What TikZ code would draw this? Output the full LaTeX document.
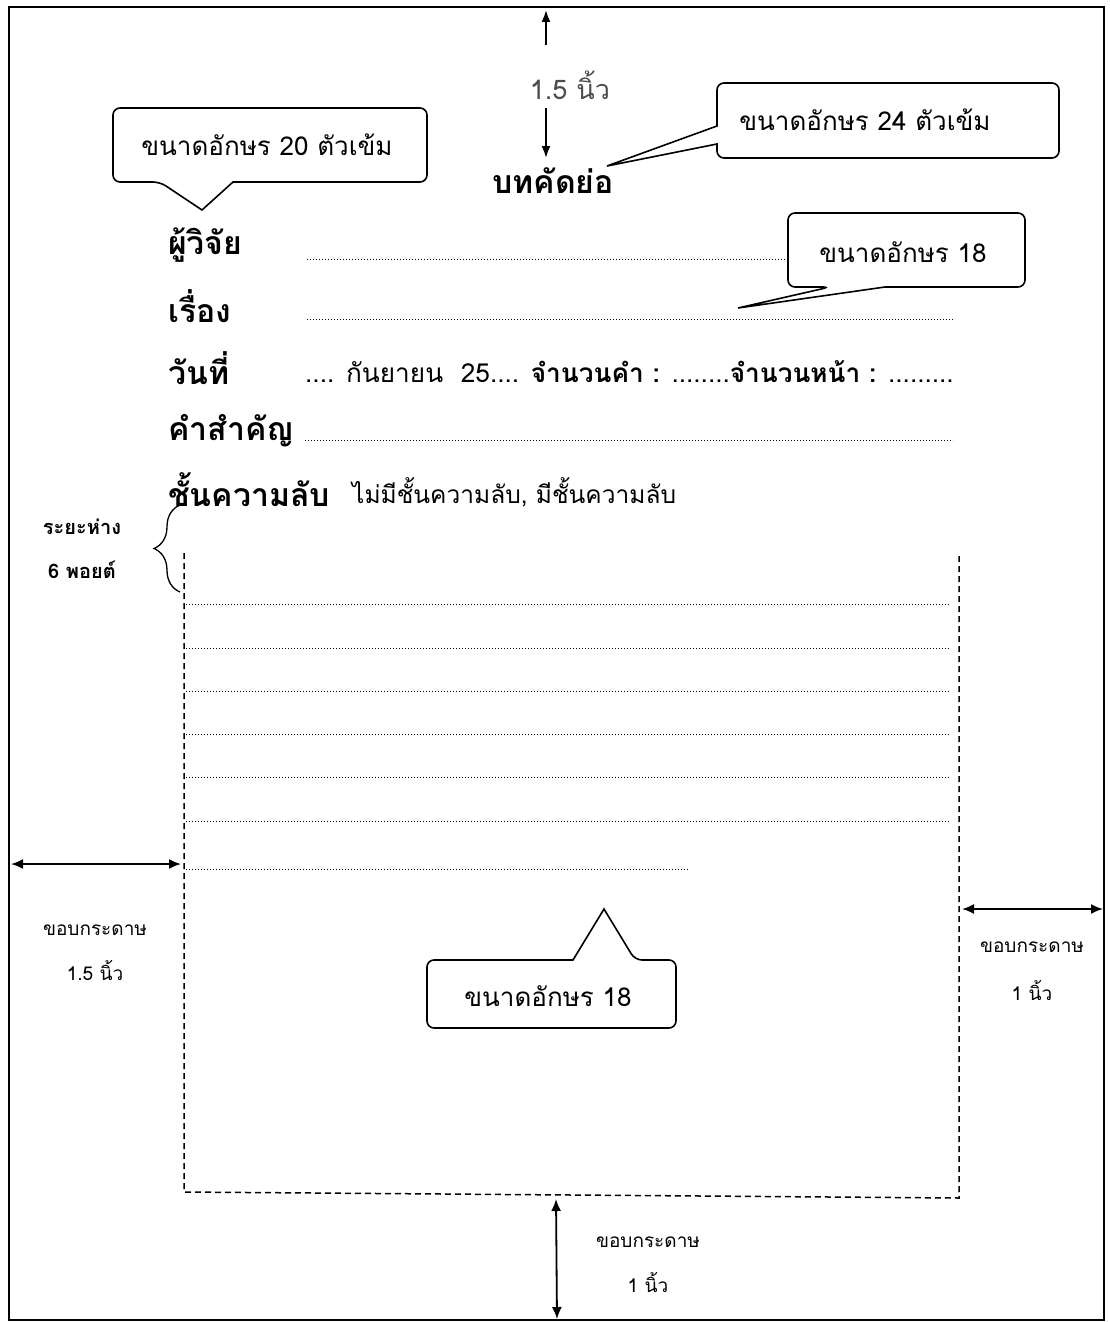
\documentclass[tikz,border=0pt]{standalone}
\usepackage{fontspec}
\setmainfont[Script=Thai]{Loma}
\usetikzlibrary{arrows.meta,decorations.pathreplacing}
\begin{document}
\begin{tikzpicture}[x=1pt,y=-1pt,
  frame/.style={line width=2.2pt},
  arr/.style={line width=1.8pt,-{Latex[length=12pt,width=9pt]}},
  darr/.style={line width=1.8pt,{Latex[length=12pt,width=10pt]}-{Latex[length=12pt,width=10pt]}},
  callout/.style={line width=1.6pt, rounded corners=7pt, fill=white},
  dots/.style={line width=1pt, dash pattern=on 1pt off 2pt},
  dashbox/.style={line width=1.5pt, dash pattern=on 6pt off 4pt},
  ctext/.style={font=\fontsize{26}{30}\selectfont, inner sep=0pt},
  lbl/.style={font=\bfseries\fontsize{32}{36}\selectfont, anchor=west, inner sep=0pt},
  reg/.style={font=\fontsize{26.2}{30}\selectfont, anchor=west, inner sep=0pt},
  small/.style={font=\fontsize{19}{22}\selectfont, inner sep=0pt},
  note/.style={font=\bfseries\fontsize{20}{24}\selectfont, inner sep=0pt},
]
\useasboundingbox (0,0) rectangle (1109,1322);
\draw[frame] (9,7) rectangle (1104,1320);

% top margin arrows
\coordinate (ttop) at (546,10);
\coordinate (tlow) at (546,45);
\coordinate (ttwo) at (546,108);
\coordinate (tbot) at (546,158);
\draw[arr] (tlow) -- (ttop);
\draw[arr] (ttwo) -- (tbot);
\node[font=\fontsize{27}{30}\selectfont, text=black!70] (n15) at (570,85) {1.5 นิ้ว};
\node[font=\bfseries\fontsize{32}{36}\selectfont] (title) at (553,181) {บทคัดย่อ};

% labels
\node[lbl] (l1) at (168,245) {ผู้วิจัย};
\node[lbl] (l2) at (168,306) {เรื่อง};
\node[lbl] (l3) at (168,368) {วันที่};
\node[lbl] (l4) at (168,431) {คำสำคัญ};
\node[lbl] (l5) at (168,490) {ชั้นความลับ};

\draw[dots] (307,259) -- (788,259);
\draw[dots] (307,319) -- (953,319);
\node[reg] (l3v) at (305,372) {.... กันยายน~~25.... {\bfseries จำนวนคำ :} ........{\bfseries จำนวนหน้า :} .........};
\draw[dots] (305,440) -- (953,440);
\node[reg, font=\fontsize{24.5}{28}\selectfont] (l5v) at (352,492) {ไม่มีชั้นความลับ, มีชั้นความลับ};

% brace
\draw[line width=1.3pt, decorate, decoration={brace, amplitude=26pt}] (180,592) -- (180,505);
\node[note] (sp1) at (82,527) {ระยะห่าง};
\node[note] (sp2) at (82,570) {6 พอยต์};

% body box
\draw[dashbox] (184,553) -- (184,1192) -- (959,1198) -- (959,553);
\foreach \yy in {604,648,691,734,777,821}
  \draw[dots] (186,\yy) -- (950,\yy);
\draw[dots] (186,869) -- (688,869);

% margins
\coordinate (lm1) at (11,864);
\coordinate (lm2) at (181,864);
\draw[darr] (lm1) -- (lm2);
\node[small] (lt1) at (95,930) {ขอบกระดาษ};
\node[small] (lt2) at (95,970) {1.5 นิ้ว};

\coordinate (rm1) at (962,909);
\coordinate (rm2) at (1103,909);
\draw[darr] (rm1) -- (rm2);
\node[small] (rt1) at (1032,947) {ขอบกระดาษ};
\node[small] (rt2) at (1032,990) {1 นิ้ว};

\coordinate (bm1) at (556,1199);
\coordinate (bm2) at (557,1319);
\draw[darr] (bm1) -- (bm2);
\node[small] (bt1) at (648,1242) {ขอบกระดาษ};
\node[small] (bt2) at (648,1282) {1 นิ้ว};

% callouts
\draw[callout] (233,182) -- (427,182) -- (427,108) -- (113,108) -- (113,182) -- (160,182) [sharp corners] -- (202,210) -- cycle;
\node[ctext] (c20) at (267,145) {ขนาดอักษร 20 ตัวเข้ม};

\draw[callout] (717,126) -- (717,83) -- (1059,83) -- (1059,158) -- (717,158) [sharp corners] -- (717,144) -- (607,166) -- cycle;
\node[ctext] (c24) at (865,120) {ขนาดอักษร 24 ตัวเข้ม};

\draw[callout] (885,287) -- (1025,287) -- (1025,213) -- (788,213) -- (788,287) -- (830,287) [sharp corners] -- (738,308) -- cycle;
\node[ctext] (c18a) at (903,252) {ขนาดอักษร 18};

\draw[callout] (573,960) -- (427,960) -- (427,1028) -- (676,1028) -- (676,960) -- (635,960) [sharp corners] -- (604,909) -- cycle;
\node[ctext] (c18b) at (548,996) {ขนาดอักษร 18};
\end{tikzpicture}
\end{document}
